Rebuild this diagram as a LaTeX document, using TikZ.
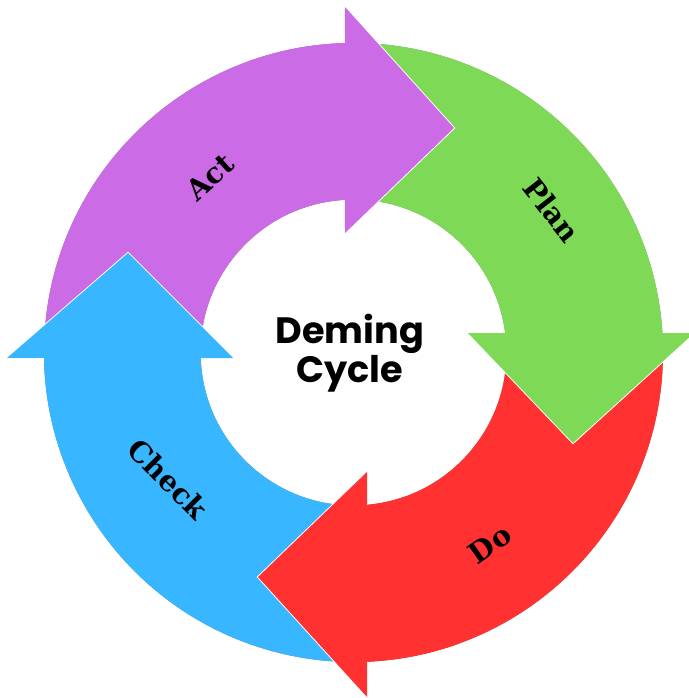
\documentclass[tikz,border=0pt]{standalone}
\usepackage{fontspec}
\setmainfont{DejaVu Serif}
\newfontfamily\titlefont{Poppins}
\usetikzlibrary{calc}

\definecolor{actcol}{HTML}{CB6CE6}
\definecolor{plancol}{HTML}{7ED957}
\definecolor{docol}{HTML}{FF3131}
\definecolor{checkcol}{HTML}{38B6FF}

% ring segment: start angle, outer end angle, inner end angle
\newcommand\ringseg[3]{($(C)+(#1:309.5)$) arc[start angle=#1,end angle=#2,radius=309.5] -- ($(C)+(#3:153)$) arc[start angle=#3,end angle=#1,radius=153] -- cycle}
% arrow head: outer end angle, inner end angle, prefix of the head points
\newcommand\headpoly[3]{($(C)+(#1:309.5)$) -- (#3-w1) -- (#3-tip) -- (#3-w2) -- ($(C)+(#2:153)$) -- cycle}
\newcommand\headrim[3]{($(C)+(#1:309.5)$) -- (#3-w1) -- (#3-tip) -- (#3-w2) -- ($(C)+(#2:153)$)}
% last part of the body together with the head
\newcommand\headfill[4]{($(C)+(#1:309.5)$) arc[start angle=#1,end angle=#2,radius=309.5] -- (#4-w1) -- (#4-tip) -- (#4-w2) -- ($(C)+(#3:153)$) arc[start angle=#3,end angle=#1,radius=153] -- cycle}

\begin{document}
\begin{tikzpicture}[x=0.75pt,y=-0.75pt,
  lbl/.style={font=\fontsize{21.5}{21.5}\selectfont\bfseries, text=black, inner sep=0pt},
  ttl/.style={font=\titlefont\bfseries\fontsize{27.5}{26}\selectfont, align=center, text=black},
  shade/.style={fill=black, opacity=0.14},
  rim/.style={draw=white, line width=1.4pt, line join=miter}]
\fill[white] (0,0) rectangle (688,698);
\useasboundingbox (0,0) rectangle (688,698);
\coordinate (C) at (353.5,352.5);

% head points
\coordinate (ck-w1) at (7,358);   \coordinate (ck-tip) at (128,253); \coordinate (ck-w2) at (233,358);
\coordinate (ac-w1) at (345,7);   \coordinate (ac-tip) at (454,128); \coordinate (ac-w2) at (345,233);
\coordinate (pl-w1) at (694,333); \coordinate (pl-tip) at (573,443); \coordinate (pl-w2) at (468,333);
\coordinate (do-w1) at (367,697); \coordinate (do-tip) at (258,577); \coordinate (do-w2) at (367,472);

% body shadows
\foreach \s in {1,2,3,4}{
  \begin{scope}[shift={(\s,\s)}]
    \fill[shade] \ringseg{88}{179}{177.9};
    \fill[shade] \ringseg{180.5}{268.4}{266.8};
    \fill[shade] \ringseg{271}{356.4}{352.7};
    \fill[shade] \ringseg{360.5}{447.5}{444.9};
  \end{scope}
}

% bodies
\fill[checkcol] \ringseg{88}{179}{177.9};
\fill[actcol]   \ringseg{180.5}{268.4}{266.8};
\fill[plancol]  \ringseg{271}{356.4}{352.7};
\fill[docol]    \ringseg{360.5}{447.5}{444.9};

% heads: shadow, white rim, fill
\foreach \s in {1,2,3,4}{\fill[shade, shift={(\s,\s)}] \headpoly{179}{177.9}{ck};}
\draw[rim] \headrim{179}{177.9}{ck};
\fill[checkcol] \headfill{160}{179}{177.9}{ck};

\foreach \s in {1,2,3,4}{\fill[shade, shift={(\s,\s)}] \headpoly{268.4}{266.8}{ac};}
\draw[rim] \headrim{268.4}{266.8}{ac};
\fill[actcol] \headfill{250}{268.4}{266.8}{ac};

\foreach \s in {1,2,3,4}{\fill[shade, shift={(\s,\s)}] \headpoly{356.4}{352.7}{pl};}
\draw[rim] \headrim{356.4}{352.7}{pl};
\fill[plancol] \headfill{338}{356.4}{352.7}{pl};

\foreach \s in {1,2,3,4}{\fill[shade, shift={(\s,\s)}] \headpoly{447.5}{444.9}{do};}
\draw[rim] \headrim{447.5}{444.9}{do};
\fill[docol] \headfill{430}{447.5}{444.9}{do};

% labels
\node[lbl, rotate=42]  (act)   at (210,177) {Act};
\node[lbl, rotate=-52] (plan)  at (552,210) {Plan};
\node[lbl, rotate=35]  (do)    at (490,544) {Do};
\node[lbl, rotate=-45] (check) at (168,479) {Check};
\node[ttl] (title) at (350,353) {Deming\\Cycle};
\end{tikzpicture}
\end{document}
